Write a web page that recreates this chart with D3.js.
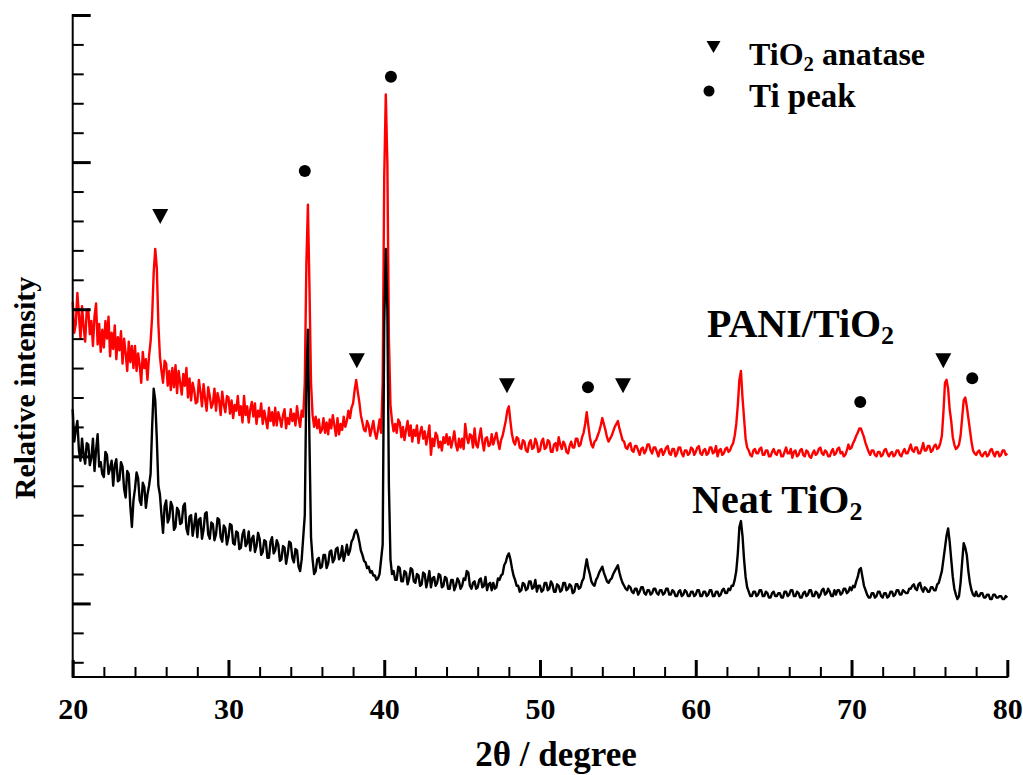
<!DOCTYPE html>
<html><head><meta charset="utf-8">
<script src="https://cdn.jsdelivr.net/npm/d3@7"></script>
<style>
body{margin:0;background:#fff}
svg{display:block}
text{font-family:"Liberation Serif","Times New Roman",serif;font-weight:bold;fill:#000}
</style>
</head><body>
<svg id="chart" width="1023" height="775"></svg>
<script>
// 2θ sampling (degrees)
const angles = [
20,20.1,20.2,20.3,20.4,20.5,20.6,20.7,20.8,20.9,
21,21.1,21.2,21.3,21.4,21.5,21.6,21.7,21.8,21.9,
22,22.1,22.2,22.3,22.4,22.5,22.6,22.7,22.8,22.9,
23,23.1,23.2,23.3,23.4,23.5,23.6,23.7,23.8,23.9,
24,24.1,24.2,24.3,24.4,24.5,24.6,24.7,24.8,24.9,
25,25.1,25.2,25.3,25.4,25.5,25.6,25.7,25.8,25.9,
26,26.1,26.2,26.3,26.4,26.5,26.6,26.7,26.8,26.9,
27,27.1,27.2,27.3,27.4,27.5,27.6,27.7,27.8,27.9,
28,28.1,28.2,28.3,28.4,28.5,28.6,28.7,28.8,28.9,
29,29.1,29.2,29.3,29.4,29.5,29.6,29.7,29.8,29.9,
30,30.1,30.2,30.3,30.4,30.5,30.6,30.7,30.8,30.9,
31,31.1,31.2,31.3,31.4,31.5,31.6,31.7,31.8,31.9,
32,32.1,32.2,32.3,32.4,32.5,32.6,32.7,32.8,32.9,
33,33.1,33.2,33.3,33.4,33.5,33.6,33.7,33.8,33.9,
34,34.1,34.2,34.3,34.4,34.5,34.6,34.7,34.8,34.9,
35,35.1,35.2,35.3,35.4,35.5,35.6,35.7,35.8,35.9,
36,36.1,36.2,36.3,36.4,36.5,36.6,36.7,36.8,36.9,
37,37.1,37.2,37.3,37.4,37.5,37.6,37.7,37.8,37.9,
38,38.1,38.2,38.3,38.4,38.5,38.6,38.7,38.8,38.9,
39,39.1,39.2,39.3,39.4,39.5,39.6,39.7,39.8,39.9,
40,40.1,40.2,40.3,40.4,40.5,40.6,40.7,40.8,40.9,
41,41.1,41.2,41.3,41.4,41.5,41.6,41.7,41.8,41.9,
42,42.1,42.2,42.3,42.4,42.5,42.6,42.7,42.8,42.9,
43,43.1,43.2,43.3,43.4,43.5,43.6,43.7,43.8,43.9,
44,44.1,44.2,44.3,44.4,44.5,44.6,44.7,44.8,44.9,
45,45.1,45.2,45.3,45.4,45.5,45.6,45.7,45.8,45.9,
46,46.1,46.2,46.3,46.4,46.5,46.6,46.7,46.8,46.9,
47,47.1,47.2,47.3,47.4,47.5,47.6,47.7,47.8,47.9,
48,48.1,48.2,48.3,48.4,48.5,48.6,48.7,48.8,48.9,
49,49.1,49.2,49.3,49.4,49.5,49.6,49.7,49.8,49.9,
50,50.1,50.2,50.3,50.4,50.5,50.6,50.7,50.8,50.9,
51,51.1,51.2,51.3,51.4,51.5,51.6,51.7,51.8,51.9,
52,52.1,52.2,52.3,52.4,52.5,52.6,52.7,52.8,52.9,
53,53.1,53.2,53.3,53.4,53.5,53.6,53.7,53.8,53.9,
54,54.1,54.2,54.3,54.4,54.5,54.6,54.7,54.8,54.9,
55,55.1,55.2,55.3,55.4,55.5,55.6,55.7,55.8,55.9,
56,56.1,56.2,56.3,56.4,56.5,56.6,56.7,56.8,56.9,
57,57.1,57.2,57.3,57.4,57.5,57.6,57.7,57.8,57.9,
58,58.1,58.2,58.3,58.4,58.5,58.6,58.7,58.8,58.9,
59,59.1,59.2,59.3,59.4,59.5,59.6,59.7,59.8,59.9,
60,60.1,60.2,60.3,60.4,60.5,60.6,60.7,60.8,60.9,
61,61.1,61.2,61.3,61.4,61.5,61.6,61.7,61.8,61.9,
62,62.1,62.2,62.3,62.4,62.5,62.6,62.7,62.8,62.9,
63,63.1,63.2,63.3,63.4,63.5,63.6,63.7,63.8,63.9,
64,64.1,64.2,64.3,64.4,64.5,64.6,64.7,64.8,64.9,
65,65.1,65.2,65.3,65.4,65.5,65.6,65.7,65.8,65.9,
66,66.1,66.2,66.3,66.4,66.5,66.6,66.7,66.8,66.9,
67,67.1,67.2,67.3,67.4,67.5,67.6,67.7,67.8,67.9,
68,68.1,68.2,68.3,68.4,68.5,68.6,68.7,68.8,68.9,
69,69.1,69.2,69.3,69.4,69.5,69.6,69.7,69.8,69.9,
70,70.1,70.2,70.3,70.4,70.5,70.6,70.7,70.8,70.9,
71,71.1,71.2,71.3,71.4,71.5,71.6,71.7,71.8,71.9,
72,72.1,72.2,72.3,72.4,72.5,72.6,72.7,72.8,72.9,
73,73.1,73.2,73.3,73.4,73.5,73.6,73.7,73.8,73.9,
74,74.1,74.2,74.3,74.4,74.5,74.6,74.7,74.8,74.9,
75,75.1,75.2,75.3,75.4,75.5,75.6,75.7,75.8,75.9,
76,76.1,76.2,76.3,76.4,76.5,76.6,76.7,76.8,76.9,
77,77.1,77.2,77.3,77.4,77.5,77.6,77.7,77.8,77.9,
78,78.1,78.2,78.3,78.4,78.5,78.6,78.7,78.8,78.9,
79,79.1,79.2,79.3,79.4,79.5,79.6,79.7,79.8,79.9,
80];

// PANI/TiO2 intensity (arb. units)
const paniTiO2 = [
205,184,190,211,196,180,202,188,178,199,
200,183,192,175,195,204,176,190,171,186,
174,192,180,195,168,184,173,189,166,181,
172,185,163,180,170,158,178,164,175,160,
175,158,170,162,150,171,160,166,152,168,
178,195,225,241,228,190,168,158,150,165,
163,148,158,145,160,147,162,143,158,150,
142,156,148,160,140,153,138,150,145,136,
137,152,144,134,149,139,131,147,141,133,
136,146,131,143,138,128,144,135,130,141,
140,129,138,126,135,131,141,128,134,123,
141,128,134,123,132,137,127,136,122,131,
127,136,122,131,125,119,133,124,130,121,
133,121,130,126,120,128,132,119,126,122,
132,124,129,121,134,126,120,131,127,150,
230,271,215,150,128,120,127,119,125,116,
118,126,116,123,115,125,119,128,121,114,
126,115,122,118,127,120,124,131,126,133,
136,145,152,144,137,128,123,118,117,124,
121,114,119,124,116,112,118,125,116,150,
290,346,300,180,135,124,117,122,116,125,
123,113,120,111,118,124,114,121,110,118,
114,121,109,116,120,112,117,108,114,121,
101,112,107,116,114,106,110,104,113,109,
115,108,113,106,111,117,108,104,112,106,
112,105,122,113,109,115,114,106,119,108,
106,113,119,110,104,112,113,107,108,115,
108,112,116,110,105,111,114,119,124,131,
134,124,115,110,108,113,112,106,105,111,
110,104,103,109,111,105,106,112,109,103,
104,110,112,105,106,111,110,103,103,108,
109,104,113,108,105,110,108,103,102,107,
110,106,106,112,112,107,108,113,116,122,
130,121,113,108,106,110,111,114,117,121,
126,122,118,113,110,112,114,117,120,122,
124,119,115,111,110,106,105,108,109,104,
103,107,107,104,101,105,106,102,104,108,
108,104,102,106,106,103,100,104,105,101,
103,106,107,102,101,105,105,100,102,106,
106,102,100,104,104,101,102,106,105,101,
103,106,107,102,101,104,105,101,102,106,
106,102,103,107,100,104,105,101,102,105,
106,103,104,107,109,114,122,135,152,158,
140,126,112,106,104,101,100,104,105,102,
102,105,106,101,101,104,104,100,100,103,
105,102,101,104,104,100,100,103,106,102,
102,105,99,103,104,100,101,104,105,101,
100,104,103,100,99,102,104,101,102,105,
106,102,101,104,103,100,100,103,105,101,
102,105,106,102,103,100,101,104,108,105,
106,109,111,114,116,119,119,116,113,109,
106,103,101,104,104,101,100,103,103,100,
101,104,105,102,100,102,103,100,101,104,
104,101,100,103,105,102,102,105,108,104,
103,106,106,102,102,105,109,104,104,107,
107,103,104,107,108,105,106,109,114,130,
150,152,146,132,124,113,108,105,106,108,
114,126,138,140,134,126,118,110,104,102,
101,103,104,101,100,102,103,100,101,104,
105,102,100,103,103,100,101,104,104,101,
102];

// Neat TiO2 intensity (arb. units)
const neatTiO2 = [
132,110,118,124,104,97,112,101,95,109,
108,94,99,112,90,104,115,93,96,88,
86,103,101,88,92,97,80,94,98,83,
84,96,93,78,72,90,88,66,52,70,
78,89,85,70,67,82,79,65,74,80,
88,120,146,138,112,80,74,60,48,66,
70,55,58,69,66,50,52,65,63,54,
55,66,68,51,47,59,60,46,53,61,
45,57,58,44,50,61,62,47,44,55,
54,43,47,58,57,45,42,53,51,40,
45,54,53,41,40,49,48,37,38,47,
50,39,41,49,36,44,46,35,39,48,
44,33,35,43,42,31,31,42,45,34,
36,43,40,29,30,39,38,27,33,42,
41,31,28,37,36,25,22,30,45,60,
150,186,110,45,30,20,22,30,31,24,
25,33,33,24,27,35,36,28,30,37,
38,30,32,39,29,34,40,33,36,42,
44,48,50,47,42,36,33,29,28,24,
25,21,22,19,19,16,17,20,30,40,
190,241,200,80,30,20,22,16,16,25,
24,15,15,22,21,13,17,24,23,15,
14,20,19,12,13,21,20,11,16,22,
11,17,18,12,14,20,19,11,12,18,
17,10,10,16,16,9,12,17,15,10,
12,17,16,22,21,12,10,14,15,10,
11,16,17,11,12,18,9,13,14,9,
14,10,11,17,16,19,20,26,28,32,
34,30,24,19,16,12,12,8,9,14,
13,9,10,15,15,10,11,16,8,12,
12,8,9,14,14,9,10,15,13,8,
8,13,12,8,9,14,14,9,10,13,
12,7,8,13,13,10,11,15,17,24,
30,24,20,15,13,12,16,18,21,23,
25,21,18,15,14,16,17,20,22,24,
26,21,17,14,12,10,9,12,11,8,
7,10,10,6,8,11,11,7,6,9,
9,6,7,10,10,7,6,9,9,6,
7,10,10,6,6,9,8,5,5,8,
9,5,6,9,8,5,5,8,8,5,
6,9,9,5,5,8,8,5,6,9,
9,5,5,8,8,5,6,9,10,7,
7,10,9,12,12,16,22,34,52,56,
46,30,18,11,8,5,5,8,8,5,
6,9,9,5,5,8,7,4,4,7,
8,5,5,7,7,4,4,8,8,5,
6,9,9,5,5,8,7,4,4,7,
8,5,6,9,9,5,5,8,7,4,
6,9,10,6,7,10,8,5,5,9,
6,9,9,6,7,10,10,7,8,11,
9,12,11,15,18,23,24,18,12,9,
6,4,4,7,7,4,5,8,8,5,
4,7,7,4,5,8,8,5,6,9,
9,6,6,9,8,7,7,10,10,12,
13,10,9,13,14,10,8,11,10,8,
8,11,11,9,9,13,14,18,22,30,
38,46,51,42,30,18,10,6,3,5,
14,28,41,38,33,22,14,9,6,5,
8,5,5,7,7,4,4,6,6,3,
3,6,6,4,4,5,5,3,3,5,
4];

// peak markers [2θ, intensity]
const anatasePeaks = [[25.62,263],[38.24,165],[47.88,148],[55.33,148],[75.89,165]];
const tiPeaks = [[34.9,294],[40.43,358],[53.08,147],[70.56,137],[77.75,153]];

// ticks
const xMajorTicks = [20,30,40,50,60,70,80];
const xMinorTicks = [22,24,26,28,32,34,36,38,42,44,46,48,52,54,56,58,62,64,66,68,72,74,76,78];
const yMajorTicks = [0,100,200,300,400];
const yMinorTicks = [-40,-20,20,40,60,80,120,140,160,180,220,240,260,280,320,340,360,380];

const svg = d3.select("#chart");
const x = d3.scaleLinear().domain([20,80]).range([72.7,1007.3]);
const y = d3.scaleLinear().domain([-50,400]).range([677,15]);

// curves
const line = d3.line().x((d,i)=>x(angles[i])).y(d=>y(d));
svg.append("path").datum(paniTiO2).attr("d",line)
  .attr("fill","none").attr("stroke","#ff0000").attr("stroke-width",2.4).attr("stroke-linejoin","round");
svg.append("path").datum(neatTiO2).attr("d",line)
  .attr("fill","none").attr("stroke","#000").attr("stroke-width",2.4).attr("stroke-linejoin","round");

// axes
function styleAxis(g, w){
  g.select(".domain").remove();
  g.selectAll(".tick line").attr("stroke","#000").attr("stroke-width",w);
}
svg.append("g").attr("transform","translate(0,677)")
  .call(d3.axisBottom(x).tickValues(xMinorTicks).tickSize(-10).tickFormat(""))
  .call(g=>styleAxis(g,2));
const xMaj = svg.append("g").attr("transform","translate(0,677)")
  .call(d3.axisBottom(x).tickValues(xMajorTicks).tickSize(-17).tickPadding(21).tickFormat(d=>String(d)))
  .call(g=>styleAxis(g,3));
xMaj.selectAll(".tick text").attr("font-size",30).attr("font-family",null).attr("fill","#000");

svg.append("g").attr("transform","translate(72.7,0)")
  .call(d3.axisLeft(y).tickValues(yMinorTicks).tickSize(-11).tickFormat(""))
  .call(g=>styleAxis(g,2));
svg.append("g").attr("transform","translate(72.7,0)")
  .call(d3.axisLeft(y).tickValues(yMajorTicks).tickSize(-18).tickFormat(""))
  .call(g=>styleAxis(g,3));

svg.append("line").attr("x1",72.7).attr("x2",72.7).attr("y1",y(400)-1).attr("y2",y(-50)+1)
  .attr("stroke","#000").attr("stroke-width",2);
svg.append("line").attr("x1",72.7).attr("x2",x(80)+1).attr("y1",677).attr("y2",677)
  .attr("stroke","#000").attr("stroke-width",2);

// axis titles
svg.append("text").attr("x",556).attr("y",766).attr("text-anchor","middle")
  .attr("font-size",35).text("2θ / degree");
svg.append("text").attr("transform","translate(35,388) rotate(-90)").attr("text-anchor","middle")
  .attr("font-size",30).text("Relative intensity");

// peak markers
const tri = (cx,cy,w,h)=>`M${cx-w/2},${cy-h/2}L${cx+w/2},${cy-h/2}L${cx},${cy+h/2}Z`;
svg.selectAll("path.anatase").data(anatasePeaks).join("path").attr("class","anatase")
  .attr("d",d=>tri(x(d[0]),y(d[1]),16,15)).attr("fill","#000");
svg.selectAll("circle.ti").data(tiPeaks).join("circle").attr("class","ti")
  .attr("cx",d=>x(d[0])).attr("cy",d=>y(d[1])).attr("r",6).attr("fill","#000");

// legend
svg.append("path").attr("d",tri(713.5,47,14,12)).attr("fill","#000");
svg.append("circle").attr("cx",709).attr("cy",91).attr("r",5.5).attr("fill","#000");
function sub(t, parts, size){
  parts.forEach(p=>{
    if(p.sub){ t.append("tspan").attr("font-size",size*0.65).attr("dy",size*0.18).text(p.s); }
    else if(p.up){ t.append("tspan").attr("dy",-size*0.18).text(p.s); }
    else t.append("tspan").text(p.s);
  });
}
const l1 = svg.append("text").attr("x",749).attr("y",65).attr("font-size",32);
sub(l1,[{s:"TiO"},{s:"2",sub:true},{s:" anatase",up:true}],32);
svg.append("text").attr("x",749).attr("y",107).attr("font-size",33).text("Ti peak");

// curve labels
const t1 = svg.append("text").attr("x",707).attr("y",337).attr("font-size",40);
sub(t1,[{s:"PANI/TiO"},{s:"2",sub:true}],40);
const t2 = svg.append("text").attr("x",692).attr("y",513).attr("font-size",40);
sub(t2,[{s:"Neat TiO"},{s:"2",sub:true}],40);
</script>
</body></html>
